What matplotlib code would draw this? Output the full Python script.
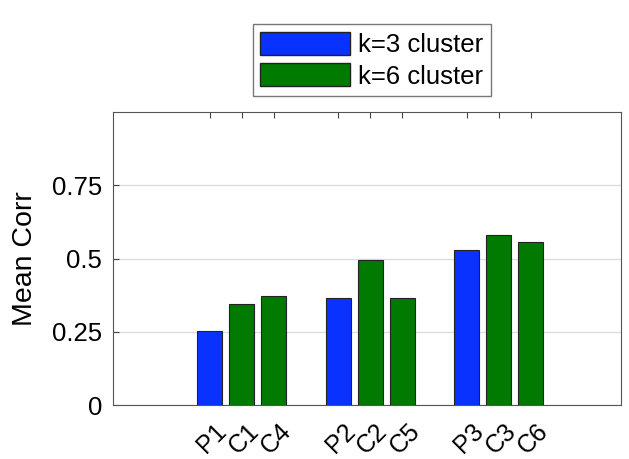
import matplotlib.pyplot as plt
import matplotlib.transforms as mtransforms
from matplotlib.patches import Patch

plt.rcParams['font.family'] = ['Liberation Sans', 'DejaVu Sans']

# data
labels = ['P1', 'C1', 'C4', 'P2', 'C2', 'C5', 'P3', 'C3', 'C6']
positions = [1, 2, 3, 5, 6, 7, 9, 10, 11]
values = [0.252, 0.345, 0.373, 0.364, 0.494, 0.364, 0.530, 0.582, 0.558]
cluster = ['k3', 'k6', 'k6', 'k3', 'k6', 'k6', 'k3', 'k6', 'k6']
yticks = [0, 0.25, 0.5, 0.75]
ytick_labels = ['0', '0.25', '0.5', '0.75']

col = {'k3': '#0a32ff', 'k6': '#007a00'}

fig = plt.figure(figsize=(6.29, 4.59), dpi=100)
ax = fig.add_axes([0.18, 0.1176, 0.807, 0.638])

ax.bar(positions, values, width=0.78, color=[col[c] for c in cluster],
       edgecolor='#222222', linewidth=0.8, zorder=3)

ax.set_xlim(-2, 13.8)
ax.set_ylim(0, 1)
ax.set_yticks(yticks)
ax.set_yticklabels(ytick_labels, fontsize=18.5)
ax.set_xticks(positions)
ax.set_xticklabels(labels, rotation=45, ha='right', va='top',
                   rotation_mode='anchor', fontsize=18)
ax.tick_params(axis='x', direction='in', top=True, length=4, pad=10, color='#444444')
ax.tick_params(axis='y', direction='in', length=4, pad=8, color='#444444')
# shift rotated labels a little to the right, as in the original
shift = mtransforms.ScaledTranslation(5 / 100, 0, fig.dpi_scale_trans)
for lab in ax.get_xticklabels():
    lab.set_transform(lab.get_transform() + shift)
ax.grid(axis='y', color='#dddddd', linewidth=1, zorder=0)
for s in ax.spines.values():
    s.set_color('#555555')
ax.set_ylabel('Mean Corr', fontsize=20.5, labelpad=10)

handles = [Patch(facecolor=col['k3'], edgecolor='#222222', label='k=3 cluster'),
           Patch(facecolor=col['k6'], edgecolor='#222222', label='k=6 cluster')]
fig.legend(handles=handles, loc='upper center', bbox_to_anchor=(0.591, 0.976),
           fontsize=18.5, fancybox=False, edgecolor='#777777', framealpha=1,
           handlelength=3.5, handleheight=1.0, handletextpad=0.3,
           labelspacing=0.25, borderpad=0.3)

fig.savefig('out.png', dpi=100)
